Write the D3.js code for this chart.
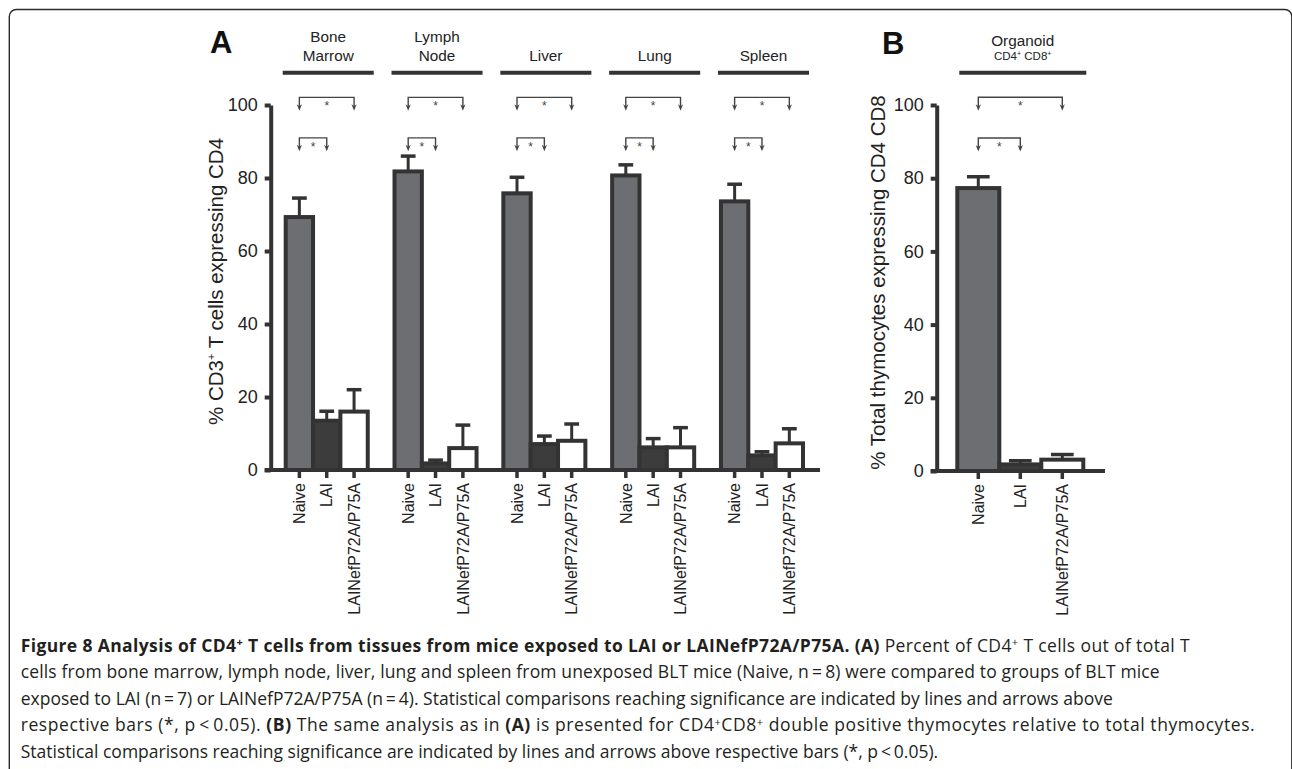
<!DOCTYPE html>
<html>
<head>
<meta charset="utf-8">
<script src="https://cdn.jsdelivr.net/npm/d3@7"></script>
<style>
  body { margin: 0; background: #fff; }
  svg { display: block; }
</style>
</head>
<body>
<div id="fig"></div>
<script>
// tissues (panel A) and treatment groups
var tissues = ["Bone Marrow", "Lymph Node", "Liver", "Lung", "Spleen"];
var tissueLines = [["Bone", "Marrow"], ["Lymph", "Node"], ["Liver"], ["Lung"], ["Spleen"]];
var groups = ["Naive", "LAI", "LAINefP72A/P75A"];

// % CD3+ T cells expressing CD4, mean and error (one value per tissue)
var naiveMean = [69.3, 81.8, 75.8, 80.7, 73.6];
var naiveErr  = [5.2, 4.2, 4.4, 2.9, 4.7];
var laiMean   = [13.5, 1.8, 7.1, 6.2, 4.0];
var laiErr    = [2.6, 0.9, 2.2, 2.4, 1.0];
var nefMean   = [16.0, 6.0, 8.0, 6.2, 7.3];
var nefErr    = [6.0, 6.3, 4.6, 5.4, 4.0];

// panel B: % total thymocytes expressing CD4 CD8 (Naive, LAI, LAINef)
var organoidMean = [77.3, 1.8, 3.1];
var organoidErr  = [3.1, 1.0, 1.4];

var yTicks = [0, 20, 40, 60, 80, 100];

// significant comparisons: from group, to group, bracket level (% units)
var comparisons = [["Naive", "LAINefP72A/P75A", 102.1], ["Naive", "LAI", 91]];

var fills = { "Naive": "#6d6e71", "LAI": "#3c3c3c", "LAINefP72A/P75A": "#ffffff" };
var ink = "#333";
var chartFont = "'Liberation Sans', Arial, Helvetica, sans-serif";

var width = 1292, height = 769;

var svg = d3.select("#fig")
  .append("svg")
    .attr("width", width)
    .attr("height", height);

svg.append("rect")
  .attr("width", width).attr("height", height)
  .attr("fill", "#fff");

// rounded frame around the figure (bottom runs off the page)
svg.append("rect")
  .attr("x", 9.3).attr("y", 9.5)
  .attr("width", 1282.5).attr("height", 820)
  .attr("rx", 7).attr("ry", 7)
  .attr("fill", "none")
  .attr("stroke", "#2b2b2b")
  .attr("stroke-width", 1.4);

// ---------- scales ----------
var yA = d3.scaleLinear().domain([0, 100]).range([470, 105]);
var xA = d3.scaleBand().domain(tissues).range([285.7, 803]).paddingInner(0.246).paddingOuter(0);
var xSub = d3.scaleBand().domain(groups).range([0, xA.bandwidth()]);

var yB = d3.scaleLinear().domain([0, 100]).range([471, 105]);
var xB = d3.scaleBand().domain(groups).range([957.3, 1083.3]);

// rows for every bar
var barsA = [];
tissues.forEach(function(t, i) {
  var means = [naiveMean[i], laiMean[i], nefMean[i]];
  var errs = [naiveErr[i], laiErr[i], nefErr[i]];
  groups.forEach(function(g, j) {
    barsA.push({ tissue: t, group: g, mean: means[j], err: errs[j],
                 x: xA(t) + xSub(g), w: xSub.bandwidth() });
  });
});
var barsB = groups.map(function(g, j) {
  return { group: g, mean: organoidMean[j], err: organoidErr[j], x: xB(g), w: xB.bandwidth() };
});

// helper for runs of text with bold / superscript pieces
function addRuns(text, runs, supSize, supShift) {
  var shift = 0;
  runs.forEach(function(r) {
    var style = r[1] || "";
    var t = text.append("tspan").text(r[0]);
    if (style.indexOf("b") >= 0) t.attr("font-weight", "bold");
    var want = style.indexOf("s") >= 0 ? supShift : 0;
    if (want !== shift) { t.attr("dy", want - shift); shift = want; }
    if (style.indexOf("s") >= 0) t.attr("font-size", supSize);
  });
}

function drawPanel(g, bars, y, axisX, baseEnd) {
  // y axis
  var ax = g.append("g")
    .attr("transform", "translate(" + axisX + ",0)")
    .call(d3.axisLeft(y).tickValues(yTicks).tickSize(6).tickSizeOuter(0).tickPadding(7));
  ax.select(".domain").attr("stroke", ink).attr("stroke-width", 4);
  ax.selectAll(".tick line").attr("stroke", ink).attr("stroke-width", 4);
  ax.selectAll(".tick text")
    .attr("fill", "#222")
    .style("font-family", chartFont)
    .style("font-size", "18px");

  // bars
  g.selectAll("rect.bar")
    .data(bars)
    .enter()
    .append("rect")
      .attr("class", "bar")
      .attr("x", function(d) { return d.x; })
      .attr("y", function(d) { return y(d.mean); })
      .attr("width", function(d) { return d.w; })
      .attr("height", function(d) { return y(0) - y(d.mean); })
      .attr("fill", function(d) { return fills[d.group]; })
      .attr("stroke", ink)
      .attr("stroke-width", 4);

  // error bars (upper only)
  var eb = g.selectAll("g.err")
    .data(bars)
    .enter()
    .append("g")
      .attr("class", "err");
  eb.append("line")
    .attr("x1", function(d) { return d.x + d.w / 2; })
    .attr("x2", function(d) { return d.x + d.w / 2; })
    .attr("y1", function(d) { return y(d.mean); })
    .attr("y2", function(d) { return y(d.mean + d.err); })
    .attr("stroke", ink).attr("stroke-width", 3);
  eb.append("line")
    .attr("x1", function(d) { return d.x + d.w * 0.23; })
    .attr("x2", function(d) { return d.x + d.w * 0.77; })
    .attr("y1", function(d) { return y(d.mean + d.err); })
    .attr("y2", function(d) { return y(d.mean + d.err); })
    .attr("stroke", ink).attr("stroke-width", 3.5);

  // baseline and x ticks
  g.append("line")
    .attr("x1", axisX - 6).attr("x2", baseEnd)
    .attr("y1", y(0)).attr("y2", y(0))
    .attr("stroke", ink).attr("stroke-width", 4);
  g.selectAll("line.xtick")
    .data(bars)
    .enter()
    .append("line")
      .attr("class", "xtick")
      .attr("x1", function(d) { return d.x + d.w / 2; })
      .attr("x2", function(d) { return d.x + d.w / 2; })
      .attr("y1", y(0)).attr("y2", y(0) + 8)
      .attr("stroke", ink).attr("stroke-width", 3.5);

  // rotated group labels
  g.selectAll("text.xlab")
    .data(bars)
    .enter()
    .append("text")
      .attr("class", "xlab")
      .attr("transform", function(d) {
        return "translate(" + (d.x + d.w / 2) + "," + (y(0) + 13) + ") rotate(-90)";
      })
      .attr("dy", "0.36em")
      .attr("text-anchor", "end")
      .attr("fill", "#222")
      .style("font-family", chartFont)
      .style("font-size", "16px")
      .text(function(d) { return d.group; });
}

function drawBrackets(g, centerOf, y) {
  comparisons.forEach(function(c) {
    var x1 = centerOf(c[0]), x2 = centerOf(c[1]);
    var yl = y(c[2]), tip = yl + 13.5;
    g.append("path")
      .attr("d", "M" + x1 + "," + (tip - 4) + "V" + yl + "H" + x2 + "V" + (tip - 4))
      .attr("fill", "none").attr("stroke", "#444").attr("stroke-width", 1.4);
    [x1, x2].forEach(function(x) {
      g.append("path")
        .attr("d", "M" + (x - 2.6) + "," + (tip - 6.5) + "L" + x + "," + (tip - 4.5) +
                   "L" + (x + 2.6) + "," + (tip - 6.5) + "L" + x + "," + tip + "Z")
        .attr("fill", "#444");
    });
    g.append("text")
      .attr("x", (x1 + x2) / 2).attr("y", yl + 13)
      .attr("text-anchor", "middle")
      .attr("fill", "#444")
      .style("font-family", chartFont)
      .style("font-size", "12px")
      .text("*");
  });
}

// ---------- panel A ----------
var gA = svg.append("g");
drawPanel(gA, barsA, yA, 270.7, 820);

tissues.forEach(function(t, i) {
  var x0 = xA(t), bw = xA.bandwidth();
  drawBrackets(gA, function(grp) { return x0 + xSub(grp) + xSub.bandwidth() / 2; }, yA);
  gA.append("line")
    .attr("x1", x0 - 3).attr("x2", x0 + bw + 6)
    .attr("y1", 72.7).attr("y2", 72.7)
    .attr("stroke", ink).attr("stroke-width", 4);
  var lines = tissueLines[i];
  lines.forEach(function(l, k) {
    gA.append("text")
      .attr("x", x0 + bw / 2 + 1.5)
      .attr("y", 60.7 - (lines.length - 1 - k) * 19)
      .attr("text-anchor", "middle")
      .attr("fill", "#222")
      .style("font-family", chartFont)
      .style("font-size", "15.3px")
      .text(l);
  });
});

gA.append("text")
  .attr("x", 210).attr("y", 53.3)
  .attr("fill", "#111")
  .style("font-family", chartFont)
  .style("font-size", "31px")
  .style("font-weight", "bold")
  .text("A");

var titleA = gA.append("text")
  .attr("transform", "translate(223,281.5) rotate(-90)")
  .attr("text-anchor", "middle")
  .attr("fill", "#222")
  .style("font-family", chartFont)
  .style("font-size", "20.5px");
addRuns(titleA, [["% CD3"], ["+", "s"], [" T cells expressing CD4"]], 11, -8);

// ---------- panel B ----------
var gB = svg.append("g");
drawPanel(gB, barsB, yB, 936.7, 1105);
drawBrackets(gB, function(grp) { return xB(grp) + xB.bandwidth() / 2; }, yB);

gB.append("line")
  .attr("x1", xB.range()[0] + 2).attr("x2", xB.range()[1] + 3)
  .attr("y1", 72.7).attr("y2", 72.7)
  .attr("stroke", ink).attr("stroke-width", 4);
gB.append("text")
  .attr("x", 1022.7).attr("y", 45.7)
  .attr("text-anchor", "middle")
  .attr("fill", "#222")
  .style("font-family", chartFont)
  .style("font-size", "15.3px")
  .text("Organoid");
var subB = gB.append("text")
  .attr("x", 1022.7).attr("y", 60)
  .attr("text-anchor", "middle")
  .attr("fill", "#222")
  .style("font-family", chartFont)
  .style("font-size", "11.5px");
addRuns(subB, [["CD4"], ["+", "s"], [" CD8"], ["+", "s"]], 7, -4);

gB.append("text")
  .attr("x", 882).attr("y", 54)
  .attr("fill", "#111")
  .style("font-family", chartFont)
  .style("font-size", "31px")
  .style("font-weight", "bold")
  .text("B");

gB.append("text")
  .attr("transform", "translate(885,282.5) rotate(-90)")
  .attr("text-anchor", "middle")
  .attr("fill", "#222")
  .style("font-family", chartFont)
  .style("font-size", "20.5px")
  .text("% Total thymocytes expressing CD4 CD8");

// ---------- caption ----------
var caption = [
  [["Figure 8 Analysis of CD4", "b"], ["+", "bs"], [" T cells from tissues from mice exposed to LAI or LAINefP72A/P75A. (A)", "b"],
   [" Percent of CD4"], ["+", "s"], [" T cells out of total T"]],
  [["cells from bone marrow, lymph node, liver, lung and spleen from unexposed BLT mice (Naive, n\u2009=\u20098) were compared to groups of BLT mice"]],
  [["exposed to LAI (n\u2009=\u20097) or LAINefP72A/P75A (n\u2009=\u20094). Statistical comparisons reaching significance are indicated by lines and arrows above"]],
  [["respective bars (*, p\u2009<\u20090.05). "], ["(B)", "b"], [" The same analysis as in "], ["(A)", "b"],
   [" is presented for CD4"], ["+", "s"], ["CD8"], ["+", "s"], [" double positive thymocytes relative to total thymocytes."]],
  [["Statistical comparisons reaching significance are indicated by lines and arrows above respective bars (*, p\u2009<\u20090.05)."]]
];
var captionY = [651.5, 678, 704.5, 731, 757.5];
// widths of the typeset lines where they could be read (null = natural)
var captionWidth = [1169, 1139, null, 1234, null];

var cap = svg.append("g")
  .style("font-family", "'Open Sans', Lato, sans-serif")
  .style("font-size", "17.5px")
  .attr("fill", "#231f20");
caption.forEach(function(runs, i) {
  var t = cap.append("text").attr("x", 20.7).attr("y", captionY[i]);
  if (captionWidth[i]) t.attr("textLength", captionWidth[i]).attr("lengthAdjust", "spacing");
  addRuns(t, runs, 11, -5.5);
});
</script>
</body>
</html>
